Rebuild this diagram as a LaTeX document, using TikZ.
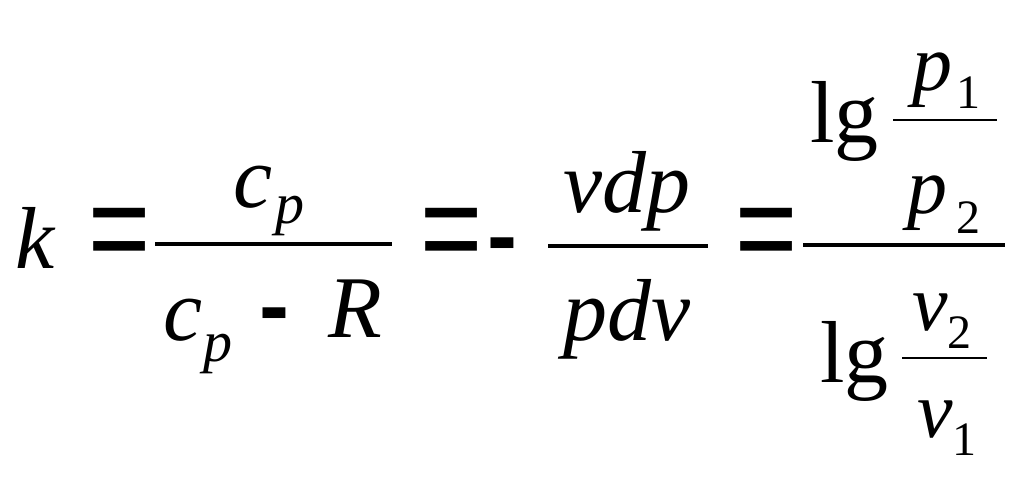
\documentclass[tikz,border=0pt]{standalone}
\usepackage{fontspec}
\setmainfont{Liberation Serif}
\newfontfamily\opfont{Liberation Sans}
\tikzset{%
  var/.style={inner sep=0pt, anchor=base west, font=\fontsize{88}{88}\selectfont\itshape},
  small/.style={inner sep=0pt, anchor=base west, font=\fontsize{80}{80}\selectfont\itshape},
  sub/.style={inner sep=0pt, anchor=base west, font=\fontsize{58}{58}\selectfont\itshape},
  digit/.style={inner sep=0pt, anchor=base west, font=\fontsize{48}{48}\selectfont},
  lgtext/.style={inner sep=0pt, anchor=base west, font=\fontsize{88}{88}\selectfont},
  eqsign/.style={inner sep=0pt, anchor=center, xscale=1.12, yscale=1.4, font=\fontsize{95}{95}\selectfont\opfont},
  minsign/.style={inner sep=0pt, anchor=center, font=\fontsize{90}{90}\selectfont\opfont\bfseries},
  bar/.style={line width=4pt},
  thinbar/.style={line width=1.5pt}
}
\begin{document}
\begin{tikzpicture}[x=1pt,y=1pt]
  \useasboundingbox (0,0) rectangle (1019,-491);

  % left side
  \node[var] (k) at (15,-268) {k};
  \node[eqsign] (eqA) at (119.5,-240.5) {=};

  % first fraction
  \coordinate (fa1) at (155,-244);
  \coordinate (fa2) at (392,-244);
  \draw[bar] (fa1) -- (fa2);
  \node[var] (cnum) at (233,-207) {c};
  \node[sub] (pnum) at (275,-223) {p};
  \node[var] (cden) at (163,-340) {c};
  \node[sub] (pden) at (203,-361) {p};
  \node[minsign] (minA) at (274.5,-322) {-};
  \node[var] (R) at (328,-337) {R};

  % second fraction
  \node[eqsign] (eqB) at (451.5,-240.5) {=};
  \node[minsign] (minB) at (502,-252) {-};
  \coordinate (fb1) at (548,-246);
  \coordinate (fb2) at (708,-246);
  \draw[bar] (fb1) -- (fb2);
  \node[var] (vdp) at (563,-212) {vdp};
  \node[var] (pdv) at (563,-340) {pdv};

  % third fraction
  \node[eqsign] (eqC) at (766.5,-240.5) {=};
  \coordinate (fc1) at (803,-245);
  \coordinate (fc2) at (1005,-245);
  \draw[bar] (fc1) -- (fc2);

  % numerator: lg p1/p2
  \node[lgtext] (lgA) at (810,-142) {lg};
  \coordinate (fd1) at (893,-120);
  \coordinate (fd2) at (997,-120);
  \draw[thinbar] (fd1) -- (fd2);
  \node[small] (pA) at (912,-90) {p};
  \node[digit] (oneA) at (956,-108) {1};
  \node[small] (pB) at (907,-213) {p};
  \node[digit] (twoA) at (956,-233) {2};

  % denominator: lg v2/v1
  \node[lgtext] (lgB) at (820,-382) {lg};
  \coordinate (fe1) at (902,-358);
  \coordinate (fe2) at (987,-358);
  \draw[thinbar] (fe1) -- (fe2);
  \node[small] (vA) at (912,-330) {v};
  \node[digit] (twoB) at (947,-348) {2};
  \node[small] (vB) at (917,-437) {v};
  \node[digit] (oneB) at (952,-455) {1};

\end{tikzpicture}
\end{document}
